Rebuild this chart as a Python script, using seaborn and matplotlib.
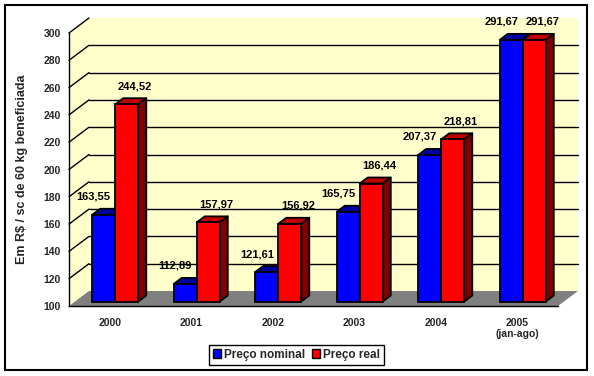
import matplotlib
matplotlib.use("Agg")
import matplotlib.pyplot as plt
import seaborn as sns
import pandas as pd
from matplotlib.patches import Polygon, Rectangle
from matplotlib.lines import Line2D

# ---- data ----
years = ['2000', '2001', '2002', '2003', '2004', '2005\n(jan-ago)']
nominal = [163.55, 112.89, 121.61, 165.75, 207.37, 291.67]
real = [244.52, 157.97, 156.92, 186.44, 218.81, 291.67]
series = ['Preço nominal', 'Preço real']
y_ticks = [100, 120, 140, 160, 180, 200, 220, 240, 260, 280, 300]
ylabel = 'Em R$ / sc de 60 kg beneficiada'

df = pd.DataFrame({
    'Ano': years * 2,
    'Valor': nominal + real,
    'Série': [series[0]] * len(years) + [series[1]] * len(years),
})

sns.set_style('white')
plt.rcParams['font.family'] = ['Liberation Sans', 'DejaVu Sans']

W, H = 594, 376
fig = plt.figure(figsize=(W / 100, H / 100), dpi=100)
fig.patch.set_facecolor('white')

# axes = front plane
ax_l, ax_r, ax_b, ax_t = 69, 558, 70, 343
ax = fig.add_axes([ax_l / W, ax_b / H, (ax_r - ax_l) / W, (ax_t - ax_b) / H])
ax.set_facecolor('none')

blue, red = '#0000FF', '#FF0000'
sns.barplot(data=df, x='Ano', y='Valor', hue='Série', hue_order=series,
            palette=[blue, red], width=0.565, edgecolor='black', linewidth=1.3,
            saturation=1, ax=ax, legend=True)

ax.set_xlim(-0.5, len(years) - 0.5)
ax.set_ylim(100, 300)

px_x = (ax_r - ax_l) / (len(years))     # px per x-unit
px_y = (ax_t - ax_b) / 200.0            # px per y-unit


def dx(p):
    return p / px_x


def dy(p):
    return p / px_y


# offsets (pixels): wall, bar front, bar depth
WX, WY = 20, 15
FX, FY = 5.5, 4.5
DX, DY = 8, 6

x0a, x1a = -0.5, len(years) - 0.5
wall_col = '#FFFFCC'
# back wall
ax.add_patch(Polygon([(x0a + dx(WX), 100 + dy(WY)), (x1a + dx(WX), 100 + dy(WY)),
                      (x1a + dx(WX), 300 + dy(WY)), (x0a + dx(WX), 300 + dy(WY))],
                     closed=True, facecolor=wall_col, edgecolor='none',
                     zorder=0.5, clip_on=False))
# left side wall
ax.add_patch(Polygon([(x0a, 100), (x0a, 300), (x0a + dx(WX), 300 + dy(WY)),
                      (x0a + dx(WX), 100 + dy(WY))],
                     closed=True, facecolor=wall_col, edgecolor='none',
                     zorder=0.5, clip_on=False))
# floor
ax.add_patch(Polygon([(x0a, 100), (x1a, 100), (x1a + dx(WX), 100 + dy(WY)),
                      (x0a + dx(WX), 100 + dy(WY))],
                     closed=True, facecolor='#808080', edgecolor='none',
                     zorder=0.8, clip_on=False))
# gridlines
for yv in y_ticks[1:]:
    ax.add_line(Line2D([x0a, x0a + dx(WX)], [yv, yv + dy(WY)], color='black',
                       lw=1.0, zorder=1, clip_on=False))
    if yv < 300:
        ax.add_line(Line2D([x0a + dx(WX), x1a + dx(WX)], [yv + dy(WY), yv + dy(WY)],
                           color='black', lw=1.0, zorder=1, clip_on=False))

# 3D bars
top_cols = ['#0000A0', '#C00000']
side_cols = ['#000080', '#800000']
label_shift = [-10, 8]
for k, cont in enumerate(ax.containers):
    vals = nominal if k == 0 else real
    for patch, v in zip(cont.patches, vals):
        x0 = patch.get_x() + dx(FX)
        w = patch.get_width()
        patch.set_x(x0)
        patch.set_y(100 + dy(FY))
        patch.set_height(v - 100)
        patch.set_clip_on(False)
        patch.set_zorder(2 + k + 0.2)
        y0 = 100 + dy(FY)
        y1 = v + dy(FY)
        x1 = x0 + w
        top = Polygon([(x0, y1), (x1, y1), (x1 + dx(DX), y1 + dy(DY)),
                       (x0 + dx(DX), y1 + dy(DY))], closed=True,
                      facecolor=top_cols[k], edgecolor='black', lw=1.3,
                      zorder=2 + k + 0.1, clip_on=False, joinstyle='round')
        side = Polygon([(x1, y0), (x1, y1), (x1 + dx(DX), y1 + dy(DY)),
                        (x1 + dx(DX), y0 + dy(DY))], closed=True,
                       facecolor=side_cols[k], edgecolor='black', lw=1.3,
                       zorder=2 + k + 0.1, clip_on=False, joinstyle='round')
        ax.add_patch(top)
        ax.add_patch(side)
        ax.annotate(f'{v:.2f}'.replace('.', ','), xy=(x0 + w / 2, y1),
                    xytext=(label_shift[k] * 0.72, 18 * 0.72),
                    textcoords='offset points', ha='center', va='center',
                    fontsize=8, fontweight='bold', color='black',
                    annotation_clip=False, zorder=6)

# axes styling
for s in ['top', 'right']:
    ax.spines[s].set_visible(False)
for s in ['left', 'bottom']:
    ax.spines[s].set_color('black')
    ax.spines[s].set_linewidth(1.0)
    ax.spines[s].set_zorder(5)
ax.set_yticks(y_ticks)
ax.set_yticklabels([str(t) for t in y_ticks], fontsize=7.5, fontweight='bold')
ax.tick_params(axis='y', direction='out', length=4, width=1, color='black', pad=2)
ax.set_xticks(range(len(years)))
ax.set_xticklabels(years, fontsize=7.5, fontweight='bold', linespacing=1.1)
ax.tick_params(axis='x', which='major', length=0, pad=9)
ax.set_xticks([i - 0.5 for i in range(len(years) + 1)], minor=True)
ax.tick_params(axis='x', which='minor', direction='out', length=4, width=1, color='black')
ax.set_xlabel('')
ax.set_ylabel(ylabel, fontsize=9, fontweight='bold')
ax.yaxis.set_label_coords(-41 / (ax_r - ax_l), 0.5)

# legend
handles = [Rectangle((0, 0), 1, 1, facecolor=blue, edgecolor='black', lw=1),
           Rectangle((0, 0), 1, 1, facecolor=red, edgecolor='black', lw=1)]
leg = ax.legend(handles, series, loc='center', bbox_to_anchor=(296.5 / W, (H - 354.7) / H),
                bbox_transform=fig.transFigure, ncol=2, frameon=True, fancybox=False,
                edgecolor='black', framealpha=1, handlelength=0.7, handleheight=0.7,
                handletextpad=0.25, columnspacing=0.6, borderpad=0.35,
                prop={'size': 8.5, 'weight': 'bold'})
leg.get_frame().set_linewidth(1.0)

# outer border
fig.add_artist(Rectangle((5 / W, (H - 370) / H), (587 - 5) / W, (370 - 5) / H,
                         transform=fig.transFigure, fill=False, edgecolor='black',
                         lw=1.5))

fig.savefig('out.png', dpi=100, facecolor='white')
